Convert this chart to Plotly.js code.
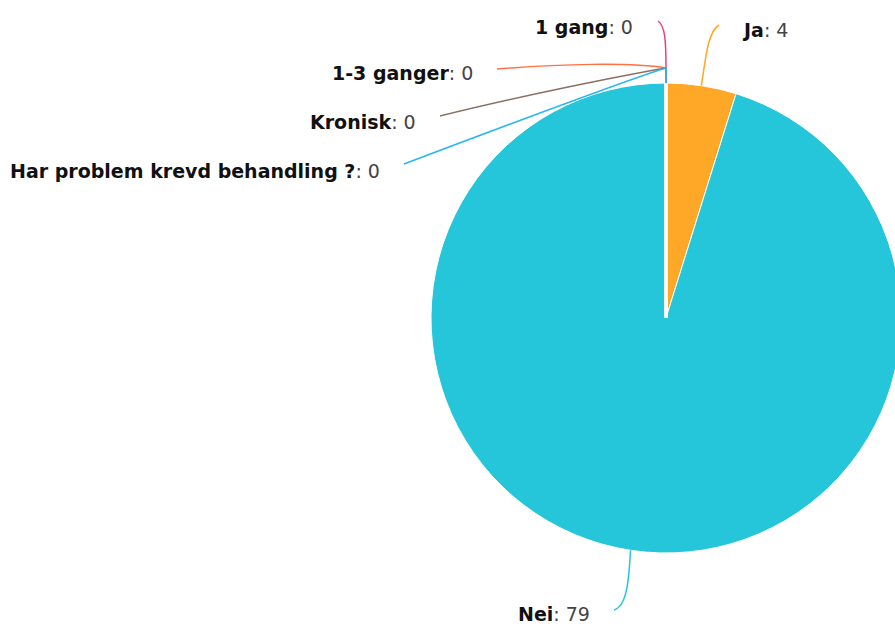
<!DOCTYPE html>
<html>
<head>
<meta charset="utf-8">
<script src="https://cdn.plot.ly/plotly-3.0.1.min.js"></script>
<style>
html,body{margin:0;padding:0;overflow:hidden;background:#fff;}
#chart{width:960px;height:626px;}
</style>
</head>
<body>
<div id="chart"></div>
<script>
// ---- data ----
const categories = ["Ja", "Nei", "1 gang", "1-3 ganger", "Kronisk", "Har problem krevd behandling ?"];
const values = [4, 79, 0, 0, 0, 0];
const colors = ["#FFA726", "#26C6DA", "#EC407A", "#FF7043", "#8D6E63", "#29B6F6"];

// ---- layout geometry (pixels) ----
const W = 960, H = 626;
const CX = 666, CY = 318, R = 235;
const px = (x) => x / W;
const py = (y) => 1 - y / H;

// label placement and leader-line bend points
const labelLayout = {
  "Ja":          {x: 740, y: 30, xa: "left",  pts: [[706,55],[708,32],[719,25]]},
  "Nei":         {x: 592, y: 614, xa: "right", pts: [[629,575],[628,606],[614,610]]},
  "1 gang":      {x: 635, y: 27, xa: "right", pts: [[666,40],[665,26],[658,21]]},
  "1-3 ganger":  {x: 475, y: 73, xa: "right", pts: [[630,62],[560,64],[497,69]]},
  "Kronisk":     {x: 418, y: 122, xa: "right", pts: [[620,76],[520,96],[440,116]]},
  "Har problem krevd behandling ?": {x: 382, y: 171, xa: "right", pts: [[650,72],[520,120],[404,164]]}
};

const total = values.reduce((a, b) => a + b, 0);
let cum = 0;
const shapes = [];
const annotations = [];
categories.forEach((c, i) => {
  const a0 = cum / total * 2 * Math.PI;
  cum += values[i];
  const a1 = cum / total * 2 * Math.PI;
  const mid = (a0 + a1) / 2;
  const sx = CX + R * Math.sin(mid), sy = CY - R * Math.cos(mid);
  const L = labelLayout[c];
  let path;
  if (values[i] === 0) {
    // separator for the empty slices
    shapes.push({type: "line", xref: "paper", yref: "paper",
      x0: px(CX), y0: py(CY), x1: px(sx), y1: py(sy),
      line: {color: "#ffffff", width: 3}, layer: "above"});
    const ex = CX + (R + 15) * Math.sin(mid), ey = CY - (R + 15) * Math.cos(mid);
    path = `M ${px(sx)} ${py(sy)} L ${px(ex)} ${py(ey)} C ` + L.pts.map(p => `${px(p[0])} ${py(p[1])}`).join(' ');
  } else {
    path = `M ${px(sx)} ${py(sy)} C ` + L.pts.map(p => `${px(p[0])} ${py(p[1])}`).join(' ');
  }
  shapes.push({type: "path", xref: "paper", yref: "paper", path: path,
    line: {color: colors[i], width: 1.5}, layer: "above"});
  annotations.push({
    xref: "paper", yref: "paper", x: px(L.x), y: py(L.y),
    xanchor: L.xa, yanchor: "middle", showarrow: false,
    text: `<b>${c}</b><span style="color:#444">: ${values[i]}</span>`,
    font: {family: "DejaVu Sans, Verdana, sans-serif", size: 19, color: "#111"}
  });
});

const trace = {
  type: "pie",
  labels: categories,
  values: values,
  sort: false,
  direction: "clockwise",
  rotation: 0,
  textinfo: "none",
  hoverinfo: "label+value",
  marker: {colors: colors, line: {color: "#ffffff", width: 1}},
  domain: {x: [px(CX - R), px(CX + R)], y: [py(CY + R), py(CY - R)]},
  showlegend: false
};

const layout = {
  width: W, height: H,
  margin: {l: 0, r: 0, t: 0, b: 0},
  paper_bgcolor: "#ffffff",
  showlegend: false,
  shapes: shapes,
  annotations: annotations
};

Plotly.newPlot("chart", [trace], layout, {displayModeBar: false, staticPlot: true});
</script>
</body>
</html>
